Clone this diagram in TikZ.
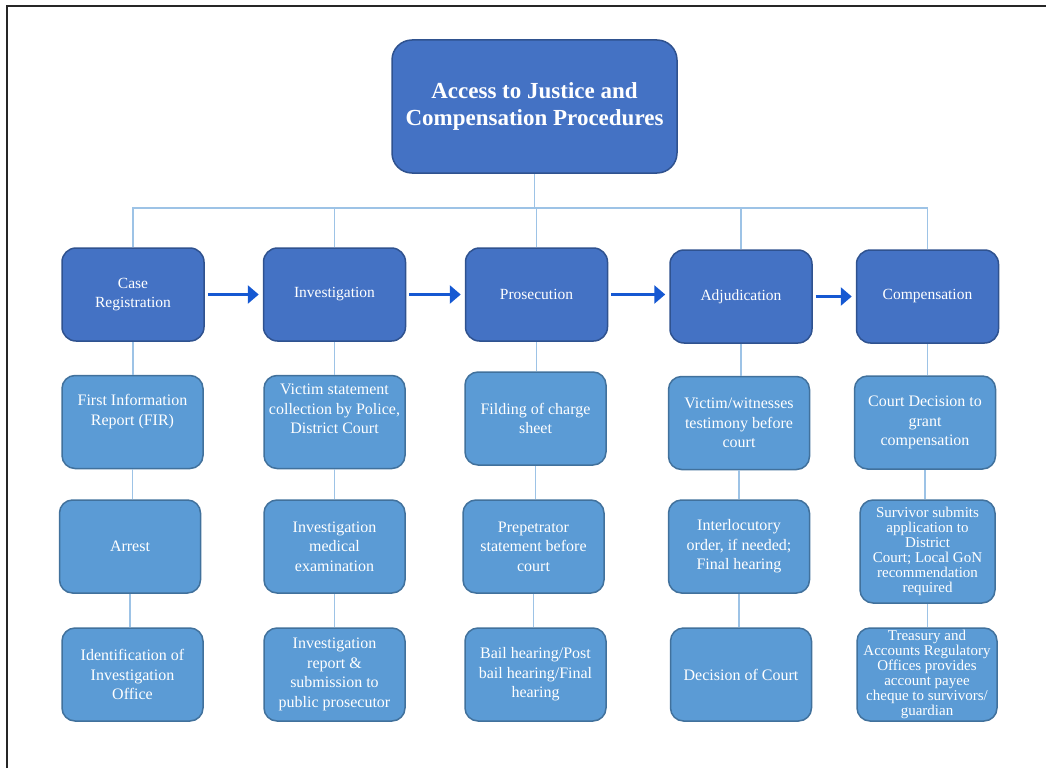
\documentclass[tikz,border=0pt]{standalone}
\usepackage{fontspec}
\setmainfont{Liberation Serif}
\usetikzlibrary{arrows.meta}
\definecolor{stagefill}{RGB}{68, 114, 196}
\definecolor{stageline}{RGB}{47, 82, 143}
\definecolor{stepfill}{RGB}{91, 155, 213}
\definecolor{stepline}{RGB}{65, 113, 156}
\definecolor{linkline}{RGB}{157, 195, 230}
\definecolor{flowline}{RGB}{21, 88, 210}

\tikzset{
	titlebox/.style={draw=stageline, fill=stagefill, line width=1.5pt, rounded corners=20pt,
		minimum width=285pt, minimum height=133pt, align=center, text=white,
		font=\fontsize{23}{27}\selectfont\bfseries},
	stagebox/.style={draw=stageline, fill=stagefill, line width=1.5pt, rounded corners=14pt,
		minimum width=142pt, minimum height=93pt, align=center, text=white,
		font=\fontsize{15.5}{19.5}\selectfont},
	stepbox/.style={draw=stepline, fill=stepfill, line width=1.5pt, rounded corners=13pt,
		minimum width=141pt, minimum height=93pt, align=center, text=white,
		font=\fontsize{16}{19.5}\selectfont},
	tightbox/.style={stepbox, inner sep=1pt, font=\fontsize{15}{15}\selectfont},
	link/.style={draw=linkline, line width=1.5pt},
	flow/.style={draw=flowline, line width=3pt, -{Triangle[length=11pt,width=18pt]},
		shorten <=3pt, shorten >=4pt}
}

\begin{document}
\begin{tikzpicture}[x=1pt, y=-1pt]
	\useasboundingbox (0,0) rectangle (1046,768);
	% page frame
	\draw [line width=2pt, black!85] (7,768) -- (7,6) -- (1046,6);

	\node [titlebox] (title) at (534.5,106.5) {Access to Justice and\\Compensation Procedures};

	% stages
	\node [stagebox] (case) at (133,294.5) {Case\\Registration};
	\node [stagebox] (inv)  at (334.5,294.5) {Investigation};
	\node [stagebox] (pros) at (536.5,294.5) {Prosecution};
	\node [stagebox] (adj)  at (741,296.5) {Adjudication};
	\node [stagebox] (comp) at (927.5,296.5) {Compensation};

	% case registration
	\node [stepbox] (fir) at (132.5,422) {First Information\\Report (FIR)\\[4.5pt]};
	\node [stepbox] (arrest) at (130,546.5) {Arrest};
	\node [stepbox] (ident) at (132.5,674.5) {Identification of\\Investigation\\Office};

	% investigation
	\node [stepbox] (victim) at (334.5,422) {Victim statement\\collection by Police,\\District Court\\[6.5pt]};
	\node [stepbox] (medical) at (334.5,546.5) {Investigation\\medical\\examination};
	\node [stepbox] (report) at (334.5,674.5) {Investigation\\report \&\\submission to\\public prosecutor};

	% prosecution
	\node [stepbox] (charge) at (535.5,418.5) {Filding of charge\\sheet};
	\node [stepbox] (perp) at (533.5,546.5) {Prepetrator\\statement before\\court};
	\node [stepbox] (bail) at (535.5,674.5) {Bail hearing/Post\\bail hearing/Final\\hearing};

	% adjudication
	\node [stepbox] (witness) at (739,423) {Victim/witnesses\\testimony before\\court};
	\node [stepbox] (order) at (739,546.5) {Interlocutory\\order, if needed;\\Final hearing};
	\node [stepbox] (decision) at (741,674.5) {Decision of Court};

	% compensation
	\node [stepbox] (grant) at (925,422.5) {Court Decision to\\grant\\compensation};
	\node [tightbox, minimum width=135pt, minimum height=103pt] (apply) at (927.5,551.5)
		{Survivor submits\\application to\\District\\Court; Local GoN\\recommendation\\required};
	\node [tightbox, minimum width=140pt] (cheque) at (927,674.5)
		{Treasury and\\Accounts Regulatory\\Offices provides\\account payee\\cheque to survivors/\\guardian};

	% tree lines
	\coordinate (bus) at (534.5,208);
	\draw [link] (title.south) -- (bus);
	\foreach \s in {case, inv, pros, adj, comp}
		\draw [link] (\s.north) |- (bus);
	\foreach \a/\b in {case/fir, fir/arrest, arrest/ident,
			inv/victim, victim/medical, medical/report,
			pros/charge, charge/perp, perp/bail,
			adj/witness, witness/order, order/decision,
			comp/grant, grant/apply, apply/cheque}
		\draw [link] (\a.south) -- (\a.south |- \b.north);

	% flow between stages
	\draw [flow] (case) -- (inv);
	\draw [flow] (inv) -- (pros);
	\draw [flow] (pros.east) -- (pros.east -| adj.west);
	\draw [flow] (adj) -- (comp);
\end{tikzpicture}
\end{document}
